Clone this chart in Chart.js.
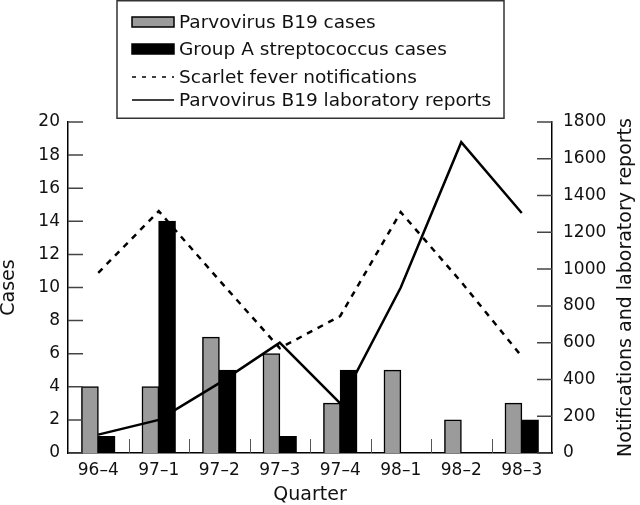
<!DOCTYPE html>
<html>
<head>
<meta charset="utf-8">
<script src="https://cdn.jsdelivr.net/npm/chart.js@4.4.0/dist/chart.umd.min.js"></script>
<style>
  html, body { margin: 0; padding: 0; background: #fff; }
  #wrap { width: 640px; height: 505px; position: relative; }
</style>
</head>
<body>
<div id="wrap"><canvas id="chart"></canvas></div>
<script>
// quarters and values
const quarters = ['96–4', '97–1', '97–2', '97–3', '97–4', '98–1', '98–2', '98–3'];
const parvoCases = [4, 4, 7, 6, 3, 5, 2, 3];
const strepCases = [1, 14, 5, 1, 5, 0, 0, 2];
const scarletNotifications = [980, 1315, 940, 570, 745, 1310, 930, 525];
const parvoLabReports = [100, 180, 380, 600, 270, 900, 1690, 1305];

// axis ranges
const casesMax = 20, casesStep = 2;
const reportsMax = 1800, reportsStep = 200;

const rightTitle = 'Notifications and laboratory reports';

Chart.defaults.font.family = "'DejaVu Sans', sans-serif";
Chart.defaults.color = '#111';

// tick marks point into the plot, as in the printed figure
const innerTicks = {
  id: 'innerTicks',
  afterDatasetsDraw(chart) {
    const {ctx, chartArea: area, scales} = chart;
    ctx.save();
    ctx.strokeStyle = '#444';
    ctx.lineWidth = 1.5;
    ctx.beginPath();
    scales.y.ticks.forEach(t => {
      const y = scales.y.getPixelForValue(t.value);
      ctx.moveTo(area.left, y);
      ctx.lineTo(area.left + 15, y);
    });
    scales.y1.ticks.forEach(t => {
      const y = scales.y1.getPixelForValue(t.value);
      ctx.moveTo(area.right - 15, y);
      ctx.lineTo(area.right, y);
    });
    ctx.stroke();
    ctx.strokeStyle = '#555';
    ctx.lineWidth = 1;
    ctx.beginPath();
    for (let i = 1; i < quarters.length; i++) {
      const x = Math.round(scales.x.getPixelForValue(i - 0.5)) + 0.5;
      ctx.moveTo(x, area.bottom);
      ctx.lineTo(x, area.bottom - 14);
    }
    ctx.stroke();
    ctx.restore();
  }
};

// legend drawn in a box above the plot, one row per dataset
const boxLegend = {
  id: 'boxLegend',
  afterDraw(chart) {
    const ctx = chart.ctx;
    const rows = [22, 49, 77, 100];
    ctx.save();
    ctx.strokeStyle = '#333';
    ctx.lineWidth = 1.5;
    ctx.strokeRect(117, 0.75, 387, 117.5);
    ctx.font = "18.5px 'DejaVu Sans'";
    ctx.textBaseline = 'middle';
    chart.data.datasets.forEach((ds, i) => {
      const y = rows[i];
      if (ds.type === 'line') {
        ctx.beginPath();
        ctx.setLineDash(ds.borderDash ? [4, 6] : []);
        ctx.lineWidth = 1.5;
        ctx.strokeStyle = '#000';
        ctx.moveTo(132, y);
        ctx.lineTo(174, y);
        ctx.stroke();
        ctx.setLineDash([]);
      } else {
        ctx.fillStyle = ds.backgroundColor;
        ctx.fillRect(132, y - 5, 42, 10);
        ctx.lineWidth = 1.5;
        ctx.strokeStyle = '#000';
        ctx.strokeRect(132, y - 5, 42, 10);
      }
      ctx.fillStyle = '#111';
      ctx.fillText(ds.label, 179, y + 1);
    });
    // right axis title, reading bottom to top
    const area = chart.chartArea;
    ctx.translate(626, (area.top + area.bottom) / 2);
    ctx.rotate(-Math.PI / 2);
    ctx.textAlign = 'center';
    ctx.font = "19px 'DejaVu Sans'";
    ctx.fillText(rightTitle, 0, 0);
    ctx.restore();
  }
};

new Chart(document.getElementById('chart'), {
  type: 'bar',
  data: {
    labels: quarters,
    datasets: [
      {
        label: 'Parvovirus B19 cases',
        data: parvoCases,
        backgroundColor: '#9b9b9b',
        borderColor: '#000',
        borderWidth: 1.5,
        inflateAmount: 0.5,
        yAxisID: 'y',
        order: 2,
      },
      {
        label: 'Group A streptococcus cases',
        data: strepCases,
        backgroundColor: '#000',
        borderColor: '#000',
        borderWidth: 1.5,
        inflateAmount: 0.5,
        yAxisID: 'y',
        order: 2,
      },
      {
        type: 'line',
        label: 'Scarlet fever notifications',
        data: scarletNotifications,
        borderColor: '#000',
        borderWidth: 2.5,
        borderDash: [6, 6],
        pointRadius: 0,
        tension: 0,
        yAxisID: 'y1',
        order: 1,
      },
      {
        type: 'line',
        label: 'Parvovirus B19 laboratory reports',
        data: parvoLabReports,
        borderColor: '#000',
        borderWidth: 2.5,
        pointRadius: 0,
        tension: 0,
        yAxisID: 'y1',
        order: 1,
      },
    ],
  },
  options: {
    responsive: true,
    maintainAspectRatio: false,
    animation: false,
    layout: { padding: { top: 122, left: 0, right: 0, bottom: 0 } },
    categoryPercentage: 0.55,
    barPercentage: 1.0,
    plugins: {
      legend: { display: false },
      tooltip: { enabled: false },
    },
    scales: {
      x: {
        grid: { display: false, drawTicks: false },
        border: { color: '#000', width: 1.5 },
        ticks: { font: { size: 17 }, padding: 7, color: '#111' },
        title: { display: true, text: 'Quarter', font: { size: 19, lineHeight: 1 }, padding: { top: 0, bottom: 0 }, color: '#111' },
        afterFit: (scale) => { scale.height = 52; },
      },
      y: {
        position: 'left',
        min: 0,
        max: casesMax,
        grid: { display: false, drawTicks: false },
        border: { color: '#000', width: 1.5 },
        ticks: { stepSize: casesStep, font: { size: 17 }, padding: 8, color: '#111', callback: v => String(v) },
        title: { display: true, text: 'Cases', font: { size: 19, lineHeight: 1 }, padding: { top: 0, bottom: 0 }, color: '#111' },
        afterFit: (scale) => { scale.width = 68; },
      },
      y1: {
        position: 'right',
        min: 0,
        max: reportsMax,
        grid: { display: false, drawTicks: false },
        border: { color: '#000', width: 1.5 },
        ticks: { stepSize: reportsStep, font: { size: 17 }, padding: 11, color: '#111', callback: v => String(v) },
        afterFit: (scale) => { scale.width = 88; },
      },
    },
  },
  plugins: [innerTicks, boxLegend],
});
</script>
</body>
</html>
